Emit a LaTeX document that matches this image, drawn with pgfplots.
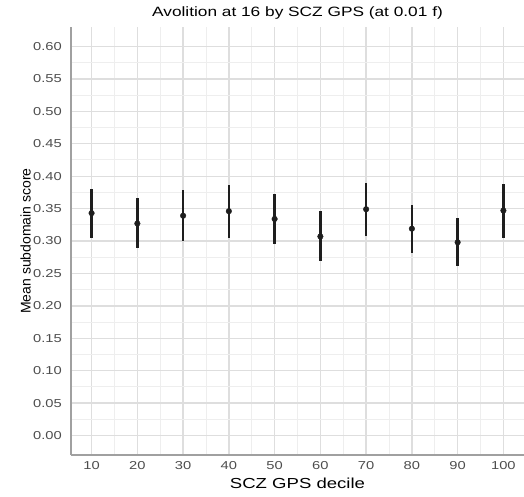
\documentclass[border=0pt]{standalone}
\usepackage{pgfplots}
\pgfplotsset{compat=1.18}
\usepackage{pgfplotstable}
\usepackage{fontspec}
\setmainfont{Liberation Sans}
\newfontfamily\widefont[FakeStretch=1.28]{Liberation Sans}

\definecolor{gridmajor}{HTML}{DEDEDE}
\definecolor{gridminor}{HTML}{EEEEEE}
\definecolor{axisgray}{HTML}{A0A0A0}
\definecolor{ticktext}{HTML}{4D4D4D}
\definecolor{barcol}{HTML}{1E1E1E}

% decile, mean score, distance to upper and lower interval limits
\pgfplotstableread{
decile mean up down
10  0.343 0.037 0.038
20  0.327 0.039 0.038
30  0.339 0.040 0.039
40  0.346 0.040 0.041
50  0.334 0.038 0.039
60  0.307 0.039 0.038
70  0.349 0.041 0.041
80  0.319 0.036 0.038
90  0.298 0.037 0.037
100 0.347 0.041 0.042
}\scores

\begin{document}
\begin{tikzpicture}
\begin{axis}[
  scale only axis,
  width=453pt, height=428pt,
  xmin=5.5, xmax=104.5,
  ymin=-0.03, ymax=0.63,
  xtick={10,20,...,100},
  ytick={0,0.05,...,0.601},
  minor x tick num=1,
  minor y tick num=1,
  major tick length=0pt, minor tick length=0pt,
  grid=both,
  major grid style={gridmajor, line width=1.3pt},
  minor grid style={gridminor, line width=0.9pt},
  axis lines*=left,
  axis line style={-, axisgray, line width=1.3pt},
  /pgf/number format/assume math mode=true,
  tick label style={font=\widefont\fontsize{11.5}{12}\selectfont, text=ticktext, inner sep=0pt},
  yticklabel style={anchor=east, xshift=-9pt,
    /pgf/number format/.cd, fixed, fixed zerofill, precision=2},
  xticklabel style={anchor=north, yshift=-6pt},
  title={Avolition at 16 by SCZ GPS (at 0.01 f)},
  title style={font=\widefont\fontsize{13.5}{14}\selectfont, anchor=center,
    at={(axis description cs:0.5,1.019)}},
  xlabel={SCZ GPS decile},
  xlabel style={font=\widefont\fontsize{14.5}{15}\selectfont, anchor=center,
    at={(axis description cs:0.5,-0.066)}},
  ylabel={Mean subdomain score},
  ylabel style={font=\fontsize{14}{15}\selectfont, anchor=center,
    at={(axis description cs:-0.100,0.5)}},
  clip=false,
]
\addplot[
  only marks,
  mark=*, mark size=2.8pt,
  mark options={fill=barcol, draw=barcol},
  error bars/.cd,
    y dir=both, y explicit,
    error mark=none,
    error bar style={barcol, line width=2.5pt},
] table[x=decile, y=mean, y error plus=up, y error minus=down]{\scores};
\end{axis}
\pgfresetboundingbox
\path[use as bounding box] (-71pt,-41pt) rectangle (453pt,455pt);
\end{tikzpicture}
\end{document}
